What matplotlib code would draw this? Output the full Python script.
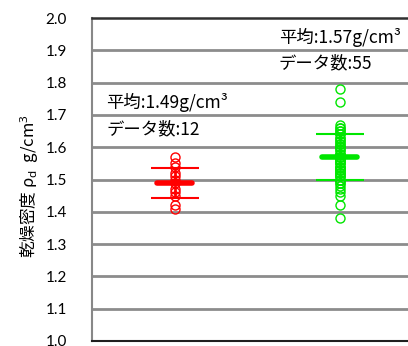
import matplotlib
matplotlib.use("Agg")
import matplotlib.pyplot as plt
import numpy as np

plt.rcParams['font.family'] = ['Noto Sans CJK JP', 'DejaVu Sans']
plt.rcParams['mathtext.fontset'] = 'custom'
plt.rcParams['mathtext.rm'] = 'Noto Sans'
plt.rcParams['mathtext.it'] = 'Noto Sans'

# data
red_values = [1.57, 1.55, 1.54, 1.52, 1.51, 1.50, 1.49, 1.47, 1.46, 1.45, 1.42, 1.41]
green_values = [1.78, 1.74, 1.67, 1.66, 1.66, 1.65, 1.65, 1.64, 1.64, 1.63, 1.63,
                1.62, 1.62, 1.61, 1.61, 1.60, 1.60, 1.60, 1.59, 1.59, 1.58, 1.58,
                1.58, 1.57, 1.57, 1.57, 1.56, 1.56, 1.56, 1.55, 1.55, 1.55, 1.54,
                1.54, 1.54, 1.53, 1.53, 1.53, 1.52, 1.52, 1.52, 1.51, 1.51, 1.51,
                1.50, 1.50, 1.50, 1.49, 1.49, 1.48, 1.47, 1.46, 1.45, 1.42, 1.38]
means = [1.49, 1.57]
sds = [0.047, 0.071]
mean_labels = ["平均:1.49g/cm³", "平均:1.57g/cm³"]
count_labels = ["データ数:12", "データ数:55"]
yticks = [1.0, 1.1, 1.2, 1.3, 1.4, 1.5, 1.6, 1.7, 1.8, 1.9, 2.0]
colors = ["#ff0000", "#00e600"]

fig = plt.figure(figsize=(4.08, 3.46), dpi=100)
ax = fig.add_axes([92/408, 5/346, 316/408, 323/346])
ax.set_xlim(0.5, 2.415)
ax.set_ylim(1.0, 2.0)

for yv in yticks[1:-1]:
    ax.axhline(yv, color='#8c8c8c', linewidth=2.0, zorder=2)

for i, vals in enumerate([red_values, green_values]):
    x = i + 1
    ax.plot([x] * len(vals), vals, linestyle='none', marker='o', markersize=6.5,
            markerfacecolor='none', markeredgecolor=colors[i], markeredgewidth=1.0, zorder=3)
    ax.errorbar([x], [means[i]], yerr=[sds[i]], fmt='none', ecolor=colors[i],
                elinewidth=2.0, capsize=17, capthick=1.5, zorder=4)
    ax.plot([x - 0.105, x + 0.105], [means[i], means[i]], color=colors[i],
            linewidth=4, solid_capstyle='round', zorder=5)

text_pos = [(0.585, 1.737, 1.656), (1.633, 1.941, 1.861)]
for i, (tx, ty1, ty2) in enumerate(text_pos):
    ax.text(tx, ty1, mean_labels[i], fontsize=12.5, va='center', ha='left', zorder=6)
    ax.text(tx, ty2, count_labels[i], fontsize=12.5, va='center', ha='left', zorder=6)

ax.set_yticks(yticks)
ax.set_yticklabels([f"{v:.1f}" for v in yticks], fontsize=11, family=['Lato', 'DejaVu Sans'])
ax.set_xticks([])
ax.tick_params(axis='y', length=0, pad=18)
ax.spines['right'].set_visible(False)
ax.spines['left'].set_color('#888888')
ax.spines['left'].set_linewidth(1.5)
ax.spines['bottom'].set_color('#202020')
ax.spines['bottom'].set_linewidth(1.5)
ax.spines['top'].set_color('#303030')
ax.spines['top'].set_linewidth(1.8)

ax.set_ylabel("乾燥密度 ρ$_{d}$  g/cm$^{3}$", fontsize=12)
ax.yaxis.set_label_coords(-0.16, 0.48)

fig.savefig("out.png", dpi=100)
